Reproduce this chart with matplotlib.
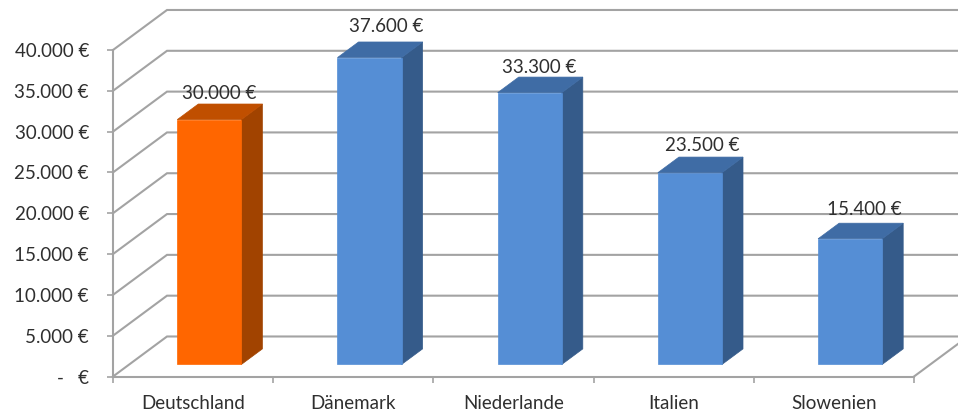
from matplotlib import pyplot as plt
from matplotlib.patches import Polygon
import numpy as np

categories = ["Deutschland", "Dänemark", "Niederlande", "Italien", "Slowenien"]
values = [30000, 37600, 33300, 23500, 15400]
value_labels = ["30.000 €", "37.600 €", "33.300 €", "23.500 €", "15.400 €"]
y_ticks = [0, 5000, 10000, 15000, 20000, 25000, 30000, 35000, 40000]
y_labels = ["-   €", "5.000 €", "10.000 €", "15.000 €", "20.000 €",
            "25.000 €", "30.000 €", "35.000 €", "40.000 €"]

GREY = "#a3a3a3"
TEXT = "#2f2f2f"
BLUE = ("#558ed5", "#3f6ca5", "#355b8a")
ORANGE = ("#ff6600", "#c04f00", "#a14300")

# oblique depth of the whole floor, in data units
DEPTH_X = 54 / 160.2
DEPTH_Y = 40 / 40.8 * 5000
Z0, Z1 = 0.3, 0.69
BAR_W = 0.4


def project(x, y, z):
    return x + z * DEPTH_X, y + z * DEPTH_Y


plt.rcParams['font.family'] = ['Lato', 'DejaVu Sans']
W, H = 958, 412
fig = plt.figure(figsize=(W / 100, H / 100), dpi=100)
ax = fig.add_axes([113 / W, (H - 376.5) / H, 801 / W, 326.5 / H])
ax.set_xlim(0, 5)
ax.set_ylim(0, 40000)
ax.patch.set_visible(False)

for s in ("top", "right"):
    ax.spines[s].set_visible(False)
for s in ("left", "bottom"):
    ax.spines[s].set_color(GREY)
    ax.spines[s].set_linewidth(1.5)
    ax.spines[s].set_zorder(1)

ax.set_yticks(y_ticks)
ax.set_yticklabels(y_labels)
ax.set_xticks(np.arange(6))
ax.set_xticklabels([])
ax.set_xticks(np.arange(5) + 0.5, minor=True)
ax.set_xticklabels(categories, minor=True)
ax.tick_params(axis="y", length=4.3, width=1.2, color=GREY, pad=13,
               labelsize=13.5, labelcolor=TEXT)
ax.tick_params(axis="x", which="major", length=4.3, width=1.2, color=GREY)
ax.tick_params(axis="x", which="minor", length=0, pad=13,
               labelsize=13.5, labelcolor=TEXT)

# side wall diagonals and back wall lines
far_x = project(5, 0, 1)[0]
for v in y_ticks:
    bx, by = project(0, v, 1)
    ax.plot([0, bx, far_x], [v, by, by], color=GREY, lw=1.5, clip_on=False,
            zorder=1, solid_joinstyle="miter")
# floor right edge
ax.plot([5, far_x], [0, DEPTH_Y], color=GREY, lw=1.5, clip_on=False, zorder=1)

# label nudges in points, the original labels were placed by hand
label_dx = [-8, -3, -8, -6.5, -5]
label_dy = [9, 12, 8.3, 9.7, 11]
for i, v in enumerate(values):
    front, top, side = ORANGE if i == 0 else BLUE
    x0 = i + 0.5 - BAR_W / 2
    x1 = x0 + BAR_W
    corners_front = [project(x0, 0, Z0), project(x1, 0, Z0),
                     project(x1, v, Z0), project(x0, v, Z0)]
    corners_side = [project(x1, 0, Z0), project(x1, 0, Z1),
                    project(x1, v, Z1), project(x1, v, Z0)]
    corners_top = [project(x0, v, Z0), project(x1, v, Z0),
                   project(x1, v, Z1), project(x0, v, Z1)]
    for pts, col in ((corners_side, side), (corners_top, top), (corners_front, front)):
        ax.add_patch(Polygon(pts, closed=True, facecolor=col, edgecolor=col,
                             lw=0.5, clip_on=False, zorder=3))
    lx, ly = project(i + 0.5, v, Z1)
    ax.annotate(value_labels[i], (lx, ly), xytext=(label_dx[i], label_dy[i]),
                textcoords="offset points", ha="center", va="center_baseline",
                fontsize=13.5, color=TEXT, annotation_clip=False, zorder=4)

fig.savefig("out.png", dpi=100)
